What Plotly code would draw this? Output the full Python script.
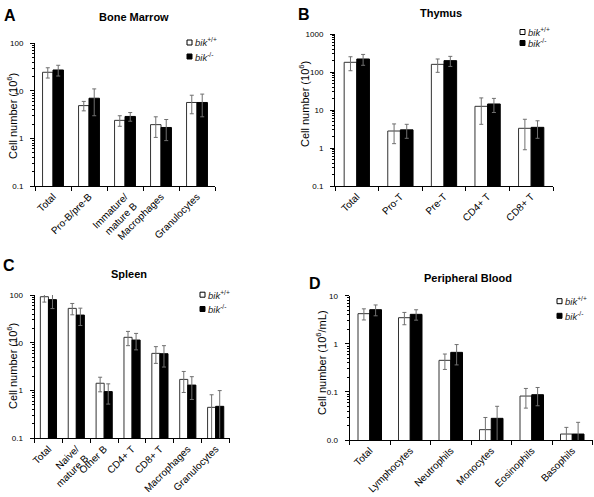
import plotly.graph_objects as go

# ---------------- data ----------------
# A: Bone marrow
a_cats = ["Total", "Pro-B/pre-B", "Immature/<br>mature B", "Macrophages", "Granulocytes"]
a_wt = [24.6, 4.9, 2.4, 1.95, 5.7]
a_wt_err = [6.0, 1.1, 0.6, 0.9, 2.4]
a_ko = [27.5, 7.0, 2.9, 1.7, 5.7]
a_ko_err = [7.0, 4.0, 0.6, 0.8, 2.85]

# B: Thymus
b_cats = ["Total", "Pro-T", "Pre-T", "CD4+ T", "CD8+ T"]
b_wt = [180, 2.8, 159, 12.5, 3.3]
b_wt_err = [72, 1.5, 61, 8.3, 2.4]
b_ko = [220, 3.0, 199, 14.4, 3.5]
b_ko_err = [70, 1.2, 59, 5.8, 1.7]

# C: Spleen
c_cats = ["Total", "Naive/<br>mature B", "Other B", "CD4+ T", "CD8+ T", "Macrophages", "Granulocytes"]
c_wt = [92, 52.5, 1.42, 13.0, 6.0, 1.71, 0.445]
c_wt_err = [21, 14, 0.48, 4.3, 2.3, 0.8, 0.37]
c_ko = [80, 38, 0.95, 11.4, 5.9, 1.3, 0.467]
c_ko_err = [28, 15, 0.43, 4.3, 2.8, 0.65, 0.53]

# D: Peripheral blood
d_cats = ["Total", "Lymphocytes", "Neutrophils", "Monocytes", "Eosinophils", "Basophils"]
d_wt = [4.23, 3.49, 0.453, 0.0164, 0.082, 0.0133]
d_wt_err = [1.1, 1.0, 0.16, 0.013, 0.036, 0.005]
d_ko = [5.12, 4.1, 0.664, 0.0282, 0.0875, 0.0133]
d_ko_err = [1.3, 1.0, 0.3, 0.022, 0.036, 0.01]

a_yticks = [0.1, 1, 10, 100]
a_yticklabels = ["0.1", "1", "10", "100"]
b_yticks = [0.1, 1, 10, 100, 1000]
b_yticklabels = ["0.1", "1", "10", "100", "1000"]
c_yticks = [0.1, 1, 10, 100]
c_yticklabels = ["0.1", "1", "10", "100"]
d_yticks = [0.01, 0.1, 1, 10]
d_yticklabels = ["0.0", "0.1", "1", "10"]

wt_name = "<i>bik</i><sup>+/+</sup>"
ko_name = "<i>bik</i><sup>-/-</sup>"

W, H = 594, 497
FONT = "Liberation Sans, Arial, Helvetica, sans-serif"


def px(x):
    return x / W


def py(y):
    return 1 - y / H


panels = [
    dict(cats=a_cats, wt=a_wt, wte=a_wt_err, ko=a_ko, koe=a_ko_err,
         yt=a_yticks, ytl=a_yticklabels, yr=[-1, 2],
         xd=[px(35), px(215)], yd=[py(186), py(43.3)],
         title="Bone Marrow", tpos=(133.7, 16.5), letter="A", lpos=(9.5, 15.5),
         ytitle="Cell number (10<sup>6</sup>)", ytpos=(12, 116), leg=(187, 42.5, 14)),
    dict(cats=b_cats, wt=b_wt, wte=b_wt_err, ko=b_ko, koe=b_ko_err,
         yt=b_yticks, ytl=b_yticklabels, yr=[-1, 3],
         xd=[px(335), px(553)], yd=[py(186), py(34)],
         title="Thymus", tpos=(441, 12.5), letter="B", lpos=(304, 14.5),
         ytitle="Cell number (10<sup>6</sup>)", ytpos=(304, 104), leg=(520, 32, 11)),
    dict(cats=c_cats, wt=c_wt, wte=c_wt_err, ko=c_ko, koe=c_ko_err,
         yt=c_yticks, ytl=c_yticklabels, yr=[-1, 2],
         xd=[px(34.5), px(229.6)], yd=[py(438.3), py(295)],
         title="Spleen", tpos=(128.5, 274), letter="C", lpos=(9, 265.5),
         ytitle="Cell number (10<sup>6</sup>)", ytpos=(12, 366), leg=(200, 294.7, 14.3)),
    dict(cats=d_cats, wt=d_wt, wte=d_wt_err, ko=d_ko, koe=d_ko_err,
         yt=d_yticks, ytl=d_yticklabels, yr=[-2, 1],
         xd=[px(349.5), px(592.5)], yd=[py(440), py(295.7)],
         title="Peripheral Blood", tpos=(468, 277.5), letter="D", lpos=(315, 283.5),
         ytitle="Cell number (10<sup>6</sup>/mL)", ytpos=(321, 363), leg=(557, 301.2, 14.6)),
]

fig = go.Figure()
annotations = []
shapes = []

for i, p in enumerate(panels):
    k = "" if i == 0 else str(i + 1)
    xa, ya = "x" + k, "y" + k
    for vals, errs, fill, edge in [(p["wt"], p["wte"], "white", "#333333"),
                                   (p["ko"], p["koe"], "black", "black")]:
        fig.add_trace(go.Bar(
            x=p["cats"], y=vals, xaxis=xa, yaxis=ya,
            marker=dict(color=fill, line=dict(color=edge, width=1)),
            error_y=dict(type="data", symmetric=False, array=errs,
                         arrayminus=[min(e, v * 0.9) for e, v in zip(errs, vals)],
                         color="#707070", thickness=1, width=2),
            showlegend=False, hoverinfo="skip",
        ))
    n = len(p["cats"])
    minor_vals = [m * 10 ** e for e in range(p["yr"][0], p["yr"][1]) for m in range(2, 10)]
    fig.layout["xaxis" + k] = dict(
        domain=p["xd"], anchor=ya, type="category", range=[-0.5, n - 0.5],
        showline=True, linecolor="black", linewidth=1, showgrid=False, zeroline=False,
        ticks="outside", tickson="boundaries", ticklen=4, tickcolor="black",
        tickangle=-45, tickfont=dict(size=10, color="black", family=FONT),
        automargin=False,
    )
    fig.layout["yaxis" + k] = dict(
        domain=p["yd"], anchor=xa, type="log", range=p["yr"],
        showline=True, linecolor="black", linewidth=1, showgrid=False, zeroline=False,
        ticks="outside", ticklen=4, tickcolor="black",
        tickvals=p["yt"], ticktext=p["ytl"], ticklabelstandoff=5,
        tickfont=dict(size=8, color="black", family=FONT),
        minor=dict(tickvals=minor_vals, ticks="outside", ticklen=2, tickcolor="black"),
        automargin=False,
    )
    # y-axis title
    annotations.append(dict(text=p["ytitle"], x=px(p["ytpos"][0]), y=py(p["ytpos"][1]),
                            xref="paper", yref="paper", xanchor="center", yanchor="middle",
                            textangle=-90, showarrow=False,
                            font=dict(size=11, color="black", family=FONT)))
    # panel title and letter
    annotations.append(dict(text="<b>" + p["title"] + "</b>", x=px(p["tpos"][0]), y=py(p["tpos"][1]),
                            xref="paper", yref="paper", xanchor="center", yanchor="middle",
                            showarrow=False, font=dict(size=11, color="black", family=FONT)))
    annotations.append(dict(text="<b>" + p["letter"] + "</b>", x=px(p["lpos"][0]), y=py(p["lpos"][1]),
                            xref="paper", yref="paper", xanchor="center", yanchor="middle",
                            showarrow=False, font=dict(size=16, color="black", family=FONT)))
    # legend
    lx, ly, dy = p["leg"]
    for j, (name, fill) in enumerate([(wt_name, "white"), (ko_name, "black")]):
        yy = ly + j * dy
        shapes.append(dict(type="rect", xref="paper", yref="paper",
                           x0=px(lx), x1=px(lx + 5), y0=py(yy + 2.5), y1=py(yy - 2.5),
                           fillcolor=fill, line=dict(color="black", width=1)))
        annotations.append(dict(text=name, x=px(lx + 6), y=py(yy), xref="paper", yref="paper",
                                xanchor="left", yanchor="middle", showarrow=False,
                                font=dict(size=9.5, color="#222222", family=FONT)))

fig.update_layout(
    width=W, height=H, margin=dict(l=0, r=0, t=0, b=0, pad=0, autoexpand=False),
    paper_bgcolor="white", plot_bgcolor="white",
    barmode="group", bargap=0.42, bargroupgap=0,
    font=dict(family=FONT, color="black"),
    annotations=annotations, shapes=shapes,
)

fig.write_html("out.html", config={"displayModeBar": False},
               post_script="document.body.style.margin='0px';document.body.style.overflow='hidden';")
